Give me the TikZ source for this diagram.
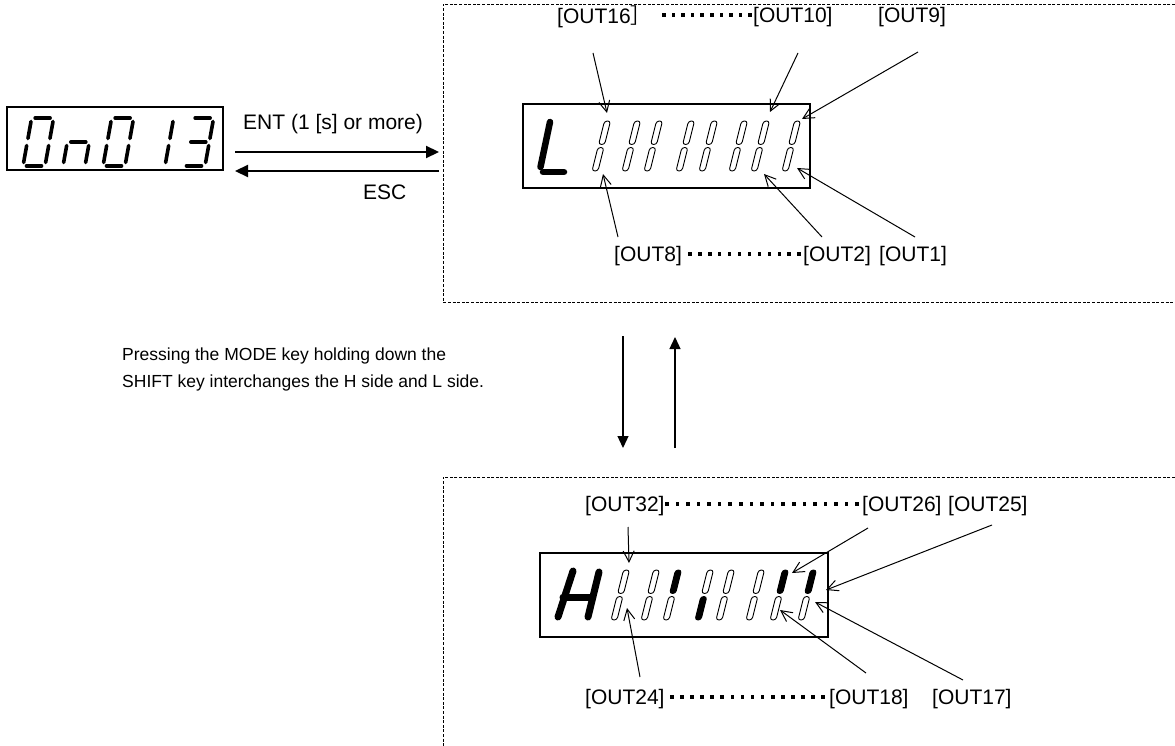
\documentclass[tikz,border=0pt]{standalone}
\usepackage{fontspec}
\setmainfont{Liberation Sans}
\newfontfamily\cjk{Noto Sans CJK JP}
\usetikzlibrary{arrows.meta}
% one LCD column: x, y (bottom), upper options, lower options
\newcommand\lcdcolumn[4]{%
  \begin{scope}[shift={(#1,#2)}, xslant=0.25]
    \draw[capsule,#3] (-3,-26.5) rectangle (3,-50);
    \draw[capsule,#4] (-3,0) rectangle (3,-23.5);
  \end{scope}}
% seven segment pieces (local coordinates)
\newcommand\dsegA{\draw[sseg] (3.5,-48) -- (18.5,-48);}
\newcommand\dsegB{\draw[sseg] (22,-44.5) -- (22,-27.5);}
\newcommand\dsegC{\draw[sseg] (22,-20.5) -- (22,-3.5);}
\newcommand\dsegD{\draw[sseg] (3.5,0) -- (18.5,0);}
\newcommand\dsegE{\draw[sseg] (0,-20.5) -- (0,-3.5);}
\newcommand\dsegF{\draw[sseg] (0,-44.5) -- (0,-27.5);}
\newcommand\dsegG{\draw[sseg] (3.5,-24) -- (18.5,-24);}
% seven segment digit: x, y (bottom-left), segments
\newcommand\sevendigit[3]{%
  \begin{scope}[shift={(#1,#2)}, xslant=0.18]
    #3
  \end{scope}}
% row of square dots: x1, x2, count, y
\newcommand\dotrun[4]{%
  \pgfmathsetmacro\dstep{(#2-#1-3.6)/(#3-1)}%
  \foreach \i in {1,...,#3}{\fill ({#1+(\i-1)*\dstep},{#4-1.8}) rectangle ++(3.6,3.6);}}
\begin{document}
\begin{tikzpicture}[x=1pt,y=-1pt,
  lbl/.style={font=\fontsize{21}{25}\selectfont, inner sep=0pt, anchor=west},
  ptr/.style={line width=1pt, -{Straight Barb[length=11pt,width=11pt]}},
  bigarrow/.style={line width=2.2pt, -{Triangle[length=13pt,width=12pt]}},
  vertarrow/.style={line width=1.3pt, -{Triangle[length=12pt,width=11pt]}},
  frame/.style={line width=0.8pt, dash pattern=on 3pt off 1.6pt},
  lcdbox/.style={draw, line width=2pt},
  capsule/.style={line width=0.9pt, rounded corners=2.8pt},
  sseg/.style={line width=3.6pt, line cap=round},
  bigseg/.style={line width=7pt, line cap=round}]
\useasboundingbox (0,0) rectangle (1175,746);

% dashed frames
\draw[frame] (1175,4) -- (443,4) -- (443,302) -- (1175,302);
\draw[frame] (1175,477) -- (443,477) -- (443,746);

% left display
\node[lcdbox, minimum width=216pt, minimum height=63pt, inner sep=0pt] (disp) at (115,138.5) {};
\sevendigit{23}{166}{\dsegA\dsegB\dsegC\dsegD\dsegE\dsegF}
\sevendigit{63}{166}{\dsegC\dsegE\dsegG}
\sevendigit{103}{166}{\dsegA\dsegB\dsegC\dsegD\dsegE\dsegF}
\sevendigit{143}{166}{\dsegB\dsegC}
\sevendigit{183}{166}{\dsegA\dsegB\dsegC\dsegD\dsegG}

% ENT / ESC
\node[lbl] (ent) at (243,124) {ENT (1 [s] or more)};
\node[lbl] (esc) at (363,192) {ESC};
\coordinate (entA) at (235,152);
\coordinate (entB) at (439,152);
\coordinate (escA) at (439,171);
\coordinate (escB) at (235,171);
\draw[bigarrow] (entA) -- (entB);
\draw[bigarrow] (escA) -- (escB);

% L display
\node[lcdbox, minimum width=287pt, minimum height=84pt, inner sep=0pt] (ldisp) at (666.5,146) {};
\draw[bigseg, line width=6.5pt] (550,122) -- (540.5,167);
\draw[bigseg, line width=6.5pt] (543,172) -- (564,172);
\foreach \x in {595,625,647,679,702,732,754,785}{\lcdcolumn{\x}{171}{}{}}

% L labels
\node[lbl] (l16) at (557,17) {[OUT16{\cjk ］}};
\node[lbl] (l10) at (753,17) {[OUT10]};
\node[lbl] (l9) at (878,17) {[OUT9]};
\dotrun{662}{752}{10}{15}
\node[lbl] (l8) at (614,256) {[OUT8]};
\node[lbl] (l2) at (803,256) {[OUT2]};
\node[lbl] (l1) at (879,256) {[OUT1]};
\dotrun{688}{801}{12}{254}

% L pointers
\coordinate (p16a) at (593,53);  \coordinate (p16b) at (607,113);
\coordinate (p10a) at (798,53);  \coordinate (p10b) at (770,112);
\coordinate (p9a) at (918,52);   \coordinate (p9b) at (802,119);
\coordinate (p8a) at (618,237);  \coordinate (p8b) at (603,174);
\coordinate (p2a) at (822,237);  \coordinate (p2b) at (764,174);
\coordinate (p1a) at (915,237);  \coordinate (p1b) at (797,168);
\draw[ptr] (p16a) -- (p16b);
\draw[ptr] (p10a) -- (p10b);
\draw[ptr] (p9a) -- (p9b);
\draw[ptr] (p8a) -- (p8b);
\draw[ptr] (p2a) -- (p2b);
\draw[ptr] (p1a) -- (p1b);

% vertical arrows
\coordinate (dnA) at (623,336); \coordinate (dnB) at (623,448);
\coordinate (upA) at (675,448); \coordinate (upB) at (675,337);
\draw[vertarrow] (dnA) -- (dnB);
\draw[vertarrow] (upA) -- (upB);

% note
\node[font=\fontsize{17.5}{27}\selectfont, align=left, anchor=west, inner sep=0pt] (note) at (122,369.5)
  {Pressing the MODE key holding down the\\SHIFT key interchanges the H side and L side.};

% H display
\node[lcdbox, minimum width=288pt, minimum height=84pt, inner sep=0pt] (hdisp) at (684,595) {};
\draw[bigseg] (573,571) -- (558,617);
\draw[bigseg] (599,572) -- (588,617);
\draw[bigseg] (563,597) -- (592,597);
\lcdcolumn{614}{620}{}{}
\lcdcolumn{644}{620}{}{}
\lcdcolumn{666}{620}{fill=black}{}
\lcdcolumn{698}{620}{}{fill=black}
\lcdcolumn{719}{620}{}{}
\lcdcolumn{749}{620}{}{}
\lcdcolumn{773}{620}{fill=black}{}
\lcdcolumn{801}{620}{fill=black}{}

% H labels
\node[lbl] (l32) at (585,506) {[OUT32]};
\node[lbl] (l26) at (862,506) {[OUT26]};
\node[lbl] (l25) at (948,506) {[OUT25]};
\dotrun{665}{859}{19}{504}
\node[lbl] (l24) at (585,699) {[OUT24]};
\node[lbl] (l18) at (829,699) {[OUT18]};
\node[lbl] (l17) at (932,699) {[OUT17]};
\dotrun{670}{825}{16}{697}

% H pointers
\coordinate (p32a) at (628,527); \coordinate (p32b) at (629,563);
\coordinate (p26a) at (868,528); \coordinate (p26b) at (792,573);
\coordinate (p25a) at (992,525); \coordinate (p25b) at (826,590);
\coordinate (p24a) at (640,677); \coordinate (p24b) at (627,608);
\coordinate (p18a) at (866,673); \coordinate (p18b) at (780,610);
\coordinate (p17a) at (963,680); \coordinate (p17b) at (815,602);
\draw[ptr] (p32a) -- (p32b);
\draw[ptr] (p26a) -- (p26b);
\draw[ptr] (p25a) -- (p25b);
\draw[ptr] (p24a) -- (p24b);
\draw[ptr] (p18a) -- (p18b);
\draw[ptr] (p17a) -- (p17b);
\end{tikzpicture}
\end{document}
